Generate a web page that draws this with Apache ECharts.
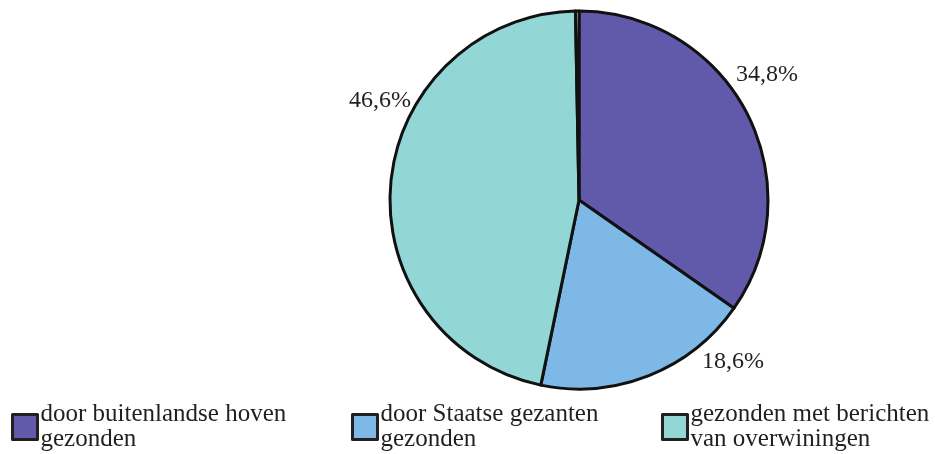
<!DOCTYPE html>
<html>
<head>
<meta charset="utf-8">
<script src="https://cdn.jsdelivr.net/npm/echarts@6/dist/echarts.min.js"></script>
<style>
html,body{margin:0;padding:0;background:#fff;}
#chart{width:935px;height:454px;}
</style>
</head>
<body>
<div id="chart"></div>
<script>
// ---- data ----
var categories = ['door buitenlandse hoven gezonden', 'door Staatse gezanten gezonden', 'gezonden met berichten van overwiningen'];
var legendLabels = ['door buitenlandse hoven\ngezonden', 'door Staatse gezanten\ngezonden', 'gezonden met berichten\nvan overwiningen'];
var values = [34.8, 18.6, 46.6];
var valueLabels = ['34,8%', '18,6%', '46,6%'];
var gapValue = 0.3; // thin unlabelled white sliver at the top

// ---- style ----
var colors = ['#6159aa', '#7db8e6', '#92d6d6'];
var FONT = 'Liberation Serif';
var TXT = '#231f20';
var labelPos = [[767, 75], [733, 362], [380, 101]];
var legendLeft = [11, 351, 661];

var data = values.map(function (v, i) {
  return {
    name: categories[i],
    value: v,
    itemStyle: { color: colors[i] },
    label: { formatter: valueLabels[i] }
  };
});
data.push({ name: '', value: gapValue, itemStyle: { color: '#ffffff' }, label: { show: false } });

var legends = categories.map(function (c, i) {
  return {
    data: [c],
    left: legendLeft[i],
    top: 389,
    padding: 0,
    orient: 'horizontal',
    icon: 'rect',
    itemWidth: 25,
    itemHeight: 25,
    itemGap: 0,
    itemStyle: { borderColor: '#231f20', borderWidth: 3 },
    formatter: function () { return legendLabels[i]; },
    textStyle: { fontFamily: FONT, fontSize: 25, color: TXT, lineHeight: 25, padding: [26, 0, 0, -2] },
    selectedMode: false
  };
});

var chart = echarts.init(document.getElementById('chart'), null, { renderer: 'canvas' });
chart.setOption({
  animation: false,
  backgroundColor: '#ffffff',
  legend: legends,
  series: [{
    type: 'pie',
    center: [579, 200],
    radius: 189,
    startAngle: 90,
    clockwise: true,
    avoidLabelOverlap: false,
    emphasis: { disabled: true },
    itemStyle: { borderColor: '#111111', borderWidth: 3 },
    label: {
      show: true,
      position: 'outside',
      fontFamily: FONT,
      fontSize: 24,
      color: TXT
    },
    labelLine: { show: false },
    labelLayout: function (params) {
      var p = labelPos[params.dataIndex];
      if (!p) return {};
      return { x: p[0], y: p[1], align: 'center', verticalAlign: 'middle' };
    },
    data: data
  }]
});
</script>
</body>
</html>
